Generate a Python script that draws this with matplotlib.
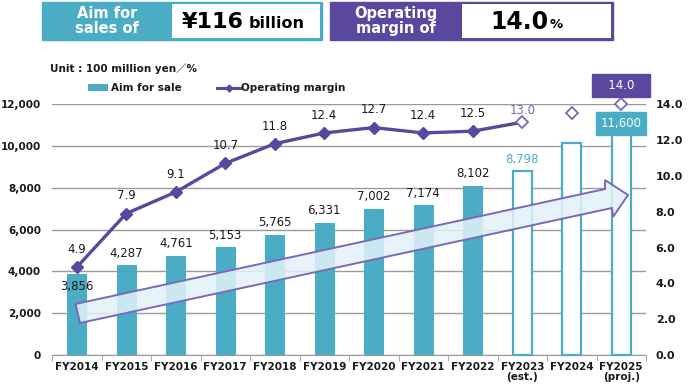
import matplotlib
matplotlib.use("Agg")
import matplotlib.pyplot as plt
from matplotlib.patches import Rectangle, Polygon
from matplotlib.lines import Line2D
import numpy as np

categories = ["FY2014", "FY2015", "FY2016", "FY2017", "FY2018", "FY2019",
              "FY2020", "FY2021", "FY2022", "FY2023\n(est.)", "FY2024", "FY2025\n(proj.)"]
sales = [3856, 4287, 4761, 5153, 5765, 6331, 7002, 7174, 8102, 8798, 10150, 11600]
margin = [4.9, 7.9, 9.1, 10.7, 11.8, 12.4, 12.7, 12.4, 12.5, 13.0, 13.5, 14.0]
n_actual = 9  # FY2014..FY2022 are actual

TEAL = "#4BACC6"
PURPLE = "#5A479E"
PURPLE_L = "#7B68B8"
DARK = "#1a1a1a"

plt.rcParams['font.family'] = ['DejaVu Sans']

W, H = 695, 389
fig = plt.figure(figsize=(W / 100, H / 100), dpi=100)

def fx(px):
    return px / W

def fy(py):
    return 1 - py / H

ax = fig.add_axes([fx(52), fy(355), fx(646) - fx(52), fy(104.3) - fy(355)])
ax2 = ax.twinx()

x = np.arange(len(categories))
bw = 0.38

# bars
for i, v in enumerate(sales):
    if i < n_actual:
        ax.bar(x[i], v, width=bw, color=TEAL, edgecolor=TEAL, linewidth=0.8, zorder=3)
    else:
        ax.bar(x[i], v, width=bw, color="white", edgecolor=TEAL, linewidth=1.6, zorder=3, clip_on=False)

ax.set_xlim(-0.5, len(categories) - 0.5)
ax.set_ylim(0, 12000)
ax.set_yticks(np.arange(0, 12001, 2000))
ax.set_yticklabels([f"{v:,}" for v in range(0, 12001, 2000)], fontsize=7.5, fontweight="bold", color=DARK)
ax.tick_params(axis="y", length=0, pad=8)
ax.grid(axis="y", color="#9a9a9a", linewidth=1.0, zorder=0)
ax.set_axisbelow(True)
for s in ["left", "right", "top"]:
    ax.spines[s].set_visible(False)
ax.spines["bottom"].set_color("#9a9a9a")
ax.set_xticks(x)
ax.set_xticklabels(categories, fontsize=7.5, fontweight="bold", color=DARK, linespacing=0.95)
ax.tick_params(axis="x", length=0, pad=5)
ax.set_xticks(np.arange(-0.5, len(categories), 1.0), minor=True)
ax.tick_params(axis="x", which="minor", length=4, color="#9a9a9a", direction="out")

# margin line
ax2.set_ylim(0, 14)
ax2.set_yticks(np.arange(0, 14.1, 2))
ax2.set_yticklabels([f"{v:.1f}" for v in np.arange(0, 14.1, 2)], fontsize=8, fontweight="bold", color=DARK)
ax2.tick_params(axis="y", length=0, pad=7)
for s in ["left", "right", "top", "bottom"]:
    ax2.spines[s].set_visible(False)

ax2.plot(x[:n_actual + 1], margin[:n_actual + 1], color=PURPLE, linewidth=2.4, zorder=4)
ax2.plot(x[:n_actual], margin[:n_actual], linestyle="none", marker="D", markersize=6,
         color=PURPLE, zorder=5)
ax2.plot(x[n_actual:], margin[n_actual:], linestyle="none", marker="D", markersize=6.5,
         markerfacecolor="white", markeredgecolor=PURPLE_L, markeredgewidth=1.3, zorder=5, clip_on=False)

# labels
LFS = 8.5
for i in range(n_actual):
    if i == 0:
        ax.annotate(f"{sales[i]:,}", (x[i], sales[i]), xytext=(0, -4), textcoords="offset points",
                    ha="center", va="top", fontsize=LFS, color=DARK, zorder=6)
    else:
        ax.annotate(f"{sales[i]:,}", (x[i], sales[i]), xytext=(0, 4), textcoords="offset points",
                    ha="center", va="bottom", fontsize=LFS, color=DARK, zorder=6)
    ax2.annotate(f"{margin[i]:.1f}", (x[i], margin[i]), xytext=(0, 8), textcoords="offset points",
                 ha="center", va="bottom", fontsize=LFS, color=DARK, zorder=6)

ax.annotate(f"{sales[9]:,}", (x[9], sales[9]), xytext=(0, 4), textcoords="offset points",
            ha="center", va="bottom", fontsize=LFS, color=TEAL, zorder=6)
ax2.annotate(f"{margin[9]:.1f}", (x[9], margin[9]), xytext=(0, 4), textcoords="offset points",
             ha="center", va="bottom", fontsize=LFS, color=PURPLE_L, zorder=6)

# FY2025 boxed labels
ax.annotate(f"{sales[11]:,}", (x[11], sales[11]), xytext=(0, -3), textcoords="offset points",
            ha="center", va="top", fontsize=LFS, color="white", zorder=7, annotation_clip=False,
            bbox=dict(boxstyle="square,pad=0.4", fc=TEAL, ec=TEAL))
ax2.annotate(f"   {margin[11]:.1f}   ", (x[11], margin[11]), xytext=(0, 9), textcoords="offset points",
             ha="center", va="bottom", fontsize=LFS, color="white", zorder=7, annotation_clip=False,
             bbox=dict(boxstyle="square,pad=0.4", fc=PURPLE, ec=PURPLE))

# overlay (pixel coordinates) for decorations
ov = fig.add_axes([0, 0, 1, 1], zorder=10)
ov.set_xlim(0, W)
ov.set_ylim(H, 0)
ov.axis("off")
ov.patch.set_alpha(0)

# big arrow
arrow_pts = [(75.5, 304), (605, 189), (605, 180), (628, 195), (613, 217), (612, 208), (80, 323)]
ov.add_patch(Polygon(arrow_pts, closed=True, facecolor="#E2F2F8", alpha=0.85, edgecolor="none"))
ov.add_patch(Polygon(arrow_pts, closed=True, facecolor="none", edgecolor=PURPLE_L, linewidth=1.4))

# header boxes
ov.add_patch(Rectangle((42, 2), 280, 38, facecolor=TEAL, edgecolor=TEAL))
ov.add_patch(Rectangle((172, 4), 148, 34, facecolor="white", edgecolor="none"))
ov.text(107, 21, "Aim for\nsales of", ha="center", va="center", fontsize=10.5, fontweight="bold",
        color="white", linespacing=1.0)
ov.text(182, 22, "¥116", ha="left", va="center", fontsize=16, fontweight="bold", color="black")
ov.text(249, 23.5, "billion", ha="left", va="center", fontsize=11.5, fontweight="bold", color="black")

ov.add_patch(Rectangle((330, 2), 283, 38, facecolor=PURPLE, edgecolor=PURPLE))
ov.add_patch(Rectangle((462, 4), 149, 34, facecolor="white", edgecolor="none"))
ov.text(396, 21, "Operating\nmargin of", ha="center", va="center", fontsize=10.5, fontweight="bold",
        color="white", linespacing=1.0)
ov.text(490, 22, "14.0", ha="left", va="center", fontsize=17, fontweight="bold", color="black")
ov.text(550, 24, "%", ha="left", va="center", fontsize=9.5, fontweight="bold", color="black")

# unit and legend
ov.text(50, 69, "Unit : 100 million yen／%", ha="left", va="center", fontsize=7.5, fontweight="bold",
        color=DARK, family=["DejaVu Sans", "Noto Sans CJK JP"])
ov.add_patch(Rectangle((88, 84), 20, 7, facecolor=TEAL, edgecolor="none"))
ov.text(111, 87.5, "Aim for sale", ha="left", va="center", fontsize=7.5, fontweight="bold", color=DARK)
ov.add_line(Line2D([217, 240], [87.5, 87.5], color=PURPLE, linewidth=2.2))
ov.add_line(Line2D([229], [87.5], marker="D", markersize=3.5, color=PURPLE))
ov.text(241, 87.5, "Operating margin", ha="left", va="center", fontsize=7.5, fontweight="bold", color=DARK)

fig.savefig("out.png", dpi=100)
